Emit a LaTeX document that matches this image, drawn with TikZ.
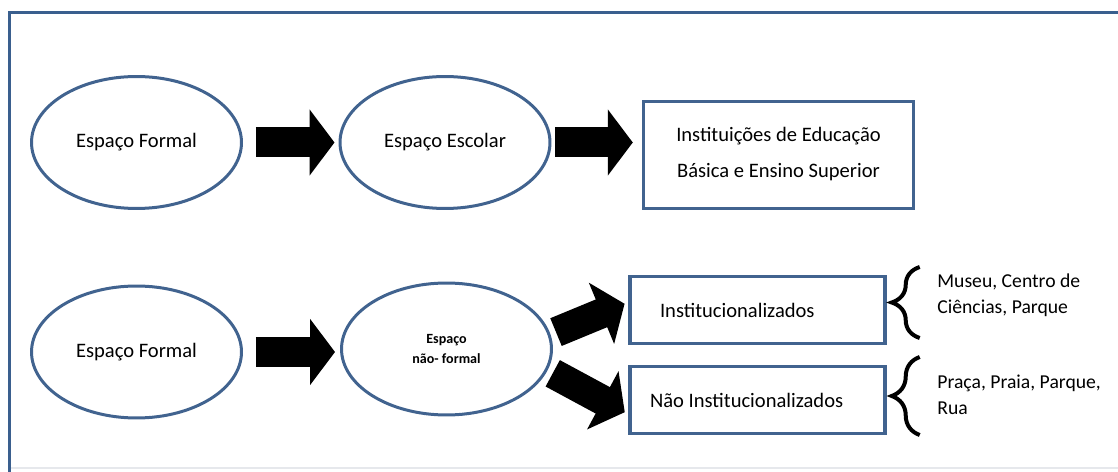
\documentclass[tikz,border=0pt]{standalone}
\usepackage{fontspec}
\setmainfont{Carlito}
\usetikzlibrary{arrows.meta, positioning, calc, shapes.geometric, decorations.pathreplacing}
\definecolor{frameblue}{HTML}{3A5F8E}
\definecolor{edgeblue}{HTML}{41638F}
\definecolor{rulefaint}{HTML}{E6E8EC}

\begin{document}
\begin{tikzpicture}[x=0.02cm, y=-0.02cm,
    font=\fontsize{11.7}{14}\selectfont,
    space/.style={ellipse, draw=edgeblue, line width=0.06cm,
                  minimum width=4.2cm, minimum height=2.64cm, inner sep=0pt},
    place/.style={rectangle, draw=edgeblue, line width=0.07cm},
    bigarrow/.style={line width=0.6cm, -{Triangle[length=0.5cm, width=1.3cm]}},
    curly/.style={decorate, decoration={brace, amplitude=0.56cm},
                  line width=0.08cm},
    sidenote/.style={anchor=west, align=left, inner sep=0pt,
                     font=\fontsize{11.2}{14.8}\selectfont}]
  \useasboundingbox (0,0) rectangle (1118,472);
  \draw[rulefaint, line width=0.03cm] (11,468) -- (1118,468);
  \draw[frameblue, line width=0.07cm] (9.5,472) -- (9.5,12.5) -- (1118,12.5);

  % upper row
  \node[space] (f1) at (136.5,142.5) {Espaço Formal};
  \node[space] (esc) at (445,142.5) {Espaço Escolar};
  \node[place, minimum width=5.4cm, minimum height=2.14cm]
    (inst) at (778.5,155) {\raisebox{0.1cm}{\begin{tabular}{@{}c@{}}
      Instituições de Educação\\[0.55em] Básica e Ensino Superior\end{tabular}}};
  \draw[bigarrow, shorten <=0.26cm, shorten >=0.08cm] (f1.east) -- (esc.west);
  \draw[bigarrow, shorten <=0.08cm, shorten >=0.18cm] (esc.east) -- (esc.east -| inst.west);

  % lower row
  \node[space] (f2) at (136.5,352) {Espaço Formal};
  \node[space, font=\fontsize{8}{11.4}\selectfont\bfseries, align=center]
    (nf) at (446.5,349) {Espaço\\não- formal};
  \node[place, minimum width=5.04cm, minimum height=1.34cm, text width=3.9cm,
        inner xsep=0.6cm, align=flush left] (ci) at (757.5,310) {Institucionalizados};
  \node[place, minimum width=5.04cm, minimum height=1.34cm, text width=4.3cm,
        inner xsep=0.4cm, align=flush left] (nci) at (757.5,400) {Não Institucionalizados};
  \draw[bigarrow, shorten <=0.26cm, shorten >=0.1cm] (f2.east) -- (f2.east -| nf.west);
  \draw[bigarrow, shorten <=0.12cm, shorten >=0.08cm]
    (nf.8) -- ($(ci.south west)!0.61!(ci.north west)$);
  \draw[bigarrow, shorten <=0.12cm, shorten >=0.08cm]
    (nf.-12) -- ($(nci.south west)!0.3!(nci.north west)$);

  % examples
  \node[sidenote] (ex1) at (937,295) {Museu, Centro de\\Ciências, Parque};
  \node[sidenote] (ex2) at (937,395) {Praça, Praia, Parque,\\Rua};
  \draw[curly] ($(ci.east)+(33,28)$) -- ($(ci.east)+(33,-43)$);
  \draw[curly] ($(nci.east)+(33,35)$) -- ($(nci.east)+(33,-43)$);
\end{tikzpicture}
\end{document}
